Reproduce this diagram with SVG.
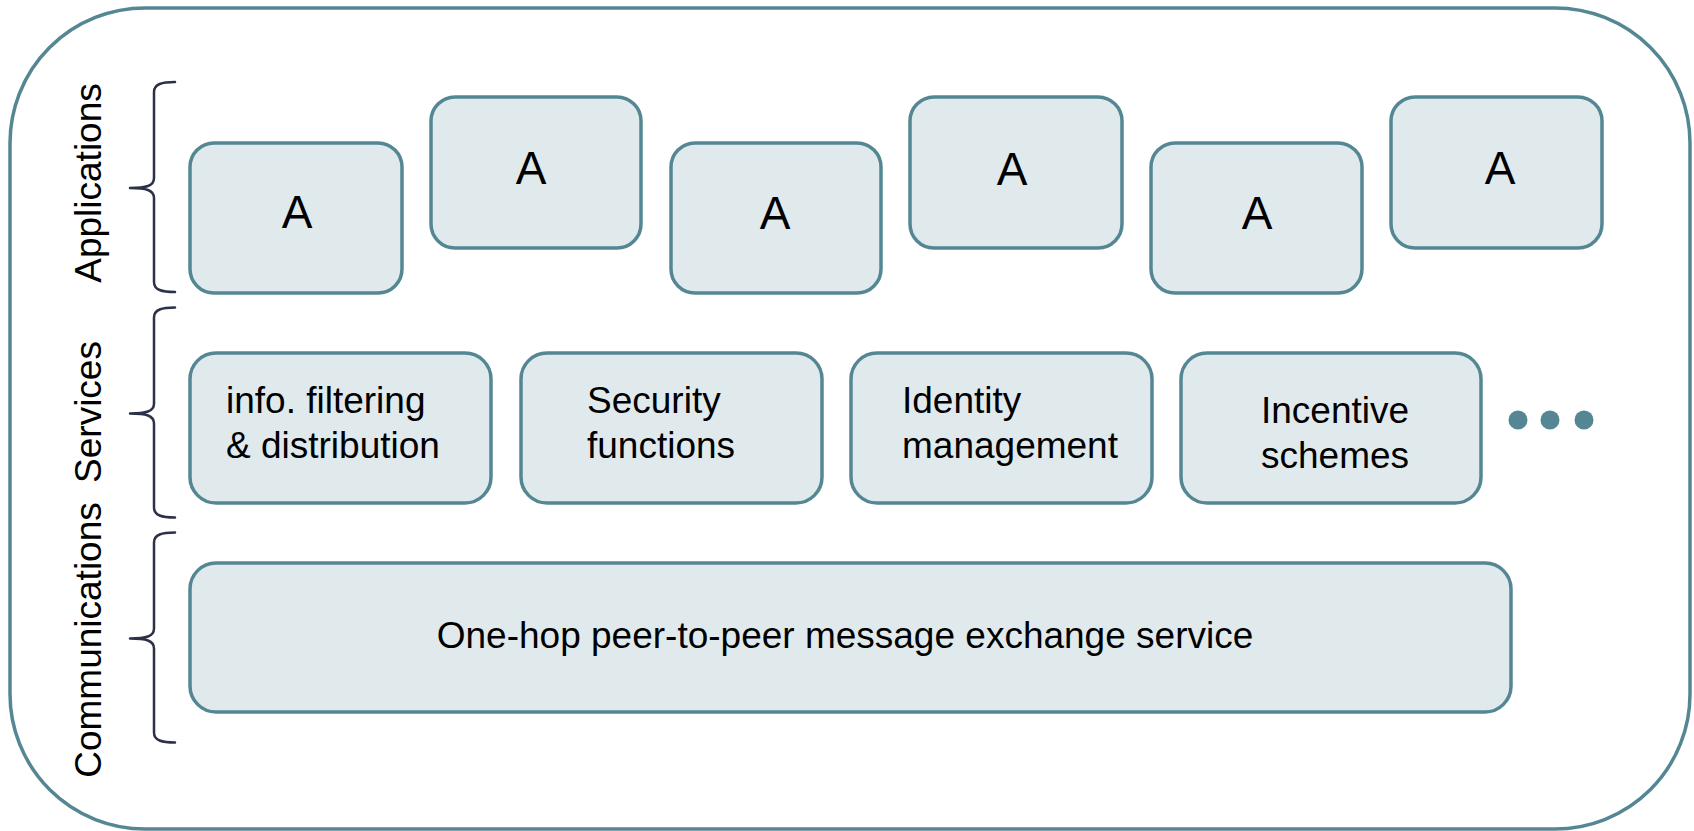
<svg xmlns="http://www.w3.org/2000/svg" width="1694" height="831" viewBox="0 0 1694 831">
  <defs>
    <style>
      .box { fill: #e0eaed; stroke: #548793; stroke-width: 3.5; }
      .frame { fill: #ffffff; stroke: #548793; stroke-width: 3.5; }
      .brace { fill: none; stroke: #2c3148; stroke-width: 2.5; stroke-linecap: round; stroke-linejoin: round; }
      .lbl { font-family: "Liberation Sans", Arial, sans-serif; font-size: 37px; fill: #000000; }
      .app { font-family: "Liberation Sans", Arial, sans-serif; font-size: 46px; fill: #000000; text-anchor: middle; }
      .dot { fill: #548793; }
    </style>
    <!-- left curly brace, 210 px tall, origin at its top on the spine -->
    <path id="brace" class="brace" d="M21,0 C8,0 0,2 0,10 L0,96 C0,104 -8,106 -24,106 C-8,106 0,108 0,116 L0,200 C0,208 8,210 21,210"/>
  </defs>

  <!-- outer rounded frame -->
  <rect class="frame" x="10" y="8" width="1680" height="821" rx="135" ry="135"/>

  <!-- layer braces -->
  <g id="braces">
    <use href="#brace" x="154" y="82"/>
    <use href="#brace" x="154" y="307.5"/>
    <use href="#brace" x="154" y="532.5"/>
  </g>

  <!-- layer names -->
  <g id="layer-labels">
    <text class="lbl" text-anchor="middle" transform="translate(101,183) rotate(-90)">Applications</text>
    <text class="lbl" text-anchor="middle" transform="translate(101,412) rotate(-90)">Services</text>
    <text class="lbl" text-anchor="middle" transform="translate(101,640) rotate(-90)">Communications</text>
  </g>

  <!-- application row -->
  <g id="app1"><rect class="box" x="190" y="143" width="212" height="150" rx="24"/><text class="app" x="297" y="228">A</text></g>
  <g id="app2"><rect class="box" x="431" y="97" width="210" height="151" rx="24"/><text class="app" x="531" y="184">A</text></g>
  <g id="app3"><rect class="box" x="671" y="143" width="210" height="150" rx="24"/><text class="app" x="775" y="229">A</text></g>
  <g id="app4"><rect class="box" x="910" y="97" width="212" height="151" rx="24"/><text class="app" x="1012" y="185">A</text></g>
  <g id="app5"><rect class="box" x="1151" y="143" width="211" height="150" rx="24"/><text class="app" x="1257" y="229">A</text></g>
  <g id="app6"><rect class="box" x="1391" y="97" width="211" height="151" rx="24"/><text class="app" x="1500" y="184">A</text></g>

  <!-- services row -->
  <g id="svc-filtering">
    <rect class="box" x="190" y="353" width="301" height="150" rx="26"/>
    <text class="lbl" x="226" y="413">info. filtering</text>
    <text class="lbl" x="226" y="458">&amp; distribution</text>
  </g>
  <g id="svc-security">
    <rect class="box" x="521" y="353" width="301" height="150" rx="26"/>
    <text class="lbl" x="587" y="413">Security</text>
    <text class="lbl" x="587" y="458">functions</text>
  </g>
  <g id="svc-identity">
    <rect class="box" x="851" y="353" width="301" height="150" rx="26"/>
    <text class="lbl" x="902" y="413">Identity</text>
    <text class="lbl" x="902" y="458">management</text>
  </g>
  <g id="svc-incentive">
    <rect class="box" x="1181" y="353" width="300" height="150" rx="26"/>
    <text class="lbl" x="1261" y="423">Incentive</text>
    <text class="lbl" x="1261" y="468">schemes</text>
  </g>
  <g id="svc-more">
    <circle class="dot" cx="1518" cy="420" r="9.5"/>
    <circle class="dot" cx="1550" cy="420" r="9.5"/>
    <circle class="dot" cx="1584" cy="420" r="9.5"/>
  </g>

  <!-- communications row -->
  <g id="comm">
    <rect class="box" x="190" y="563" width="1321" height="149" rx="26"/>
    <text class="lbl" x="845" y="648" text-anchor="middle">One-hop peer-to-peer message exchange service</text>
  </g>
</svg>
